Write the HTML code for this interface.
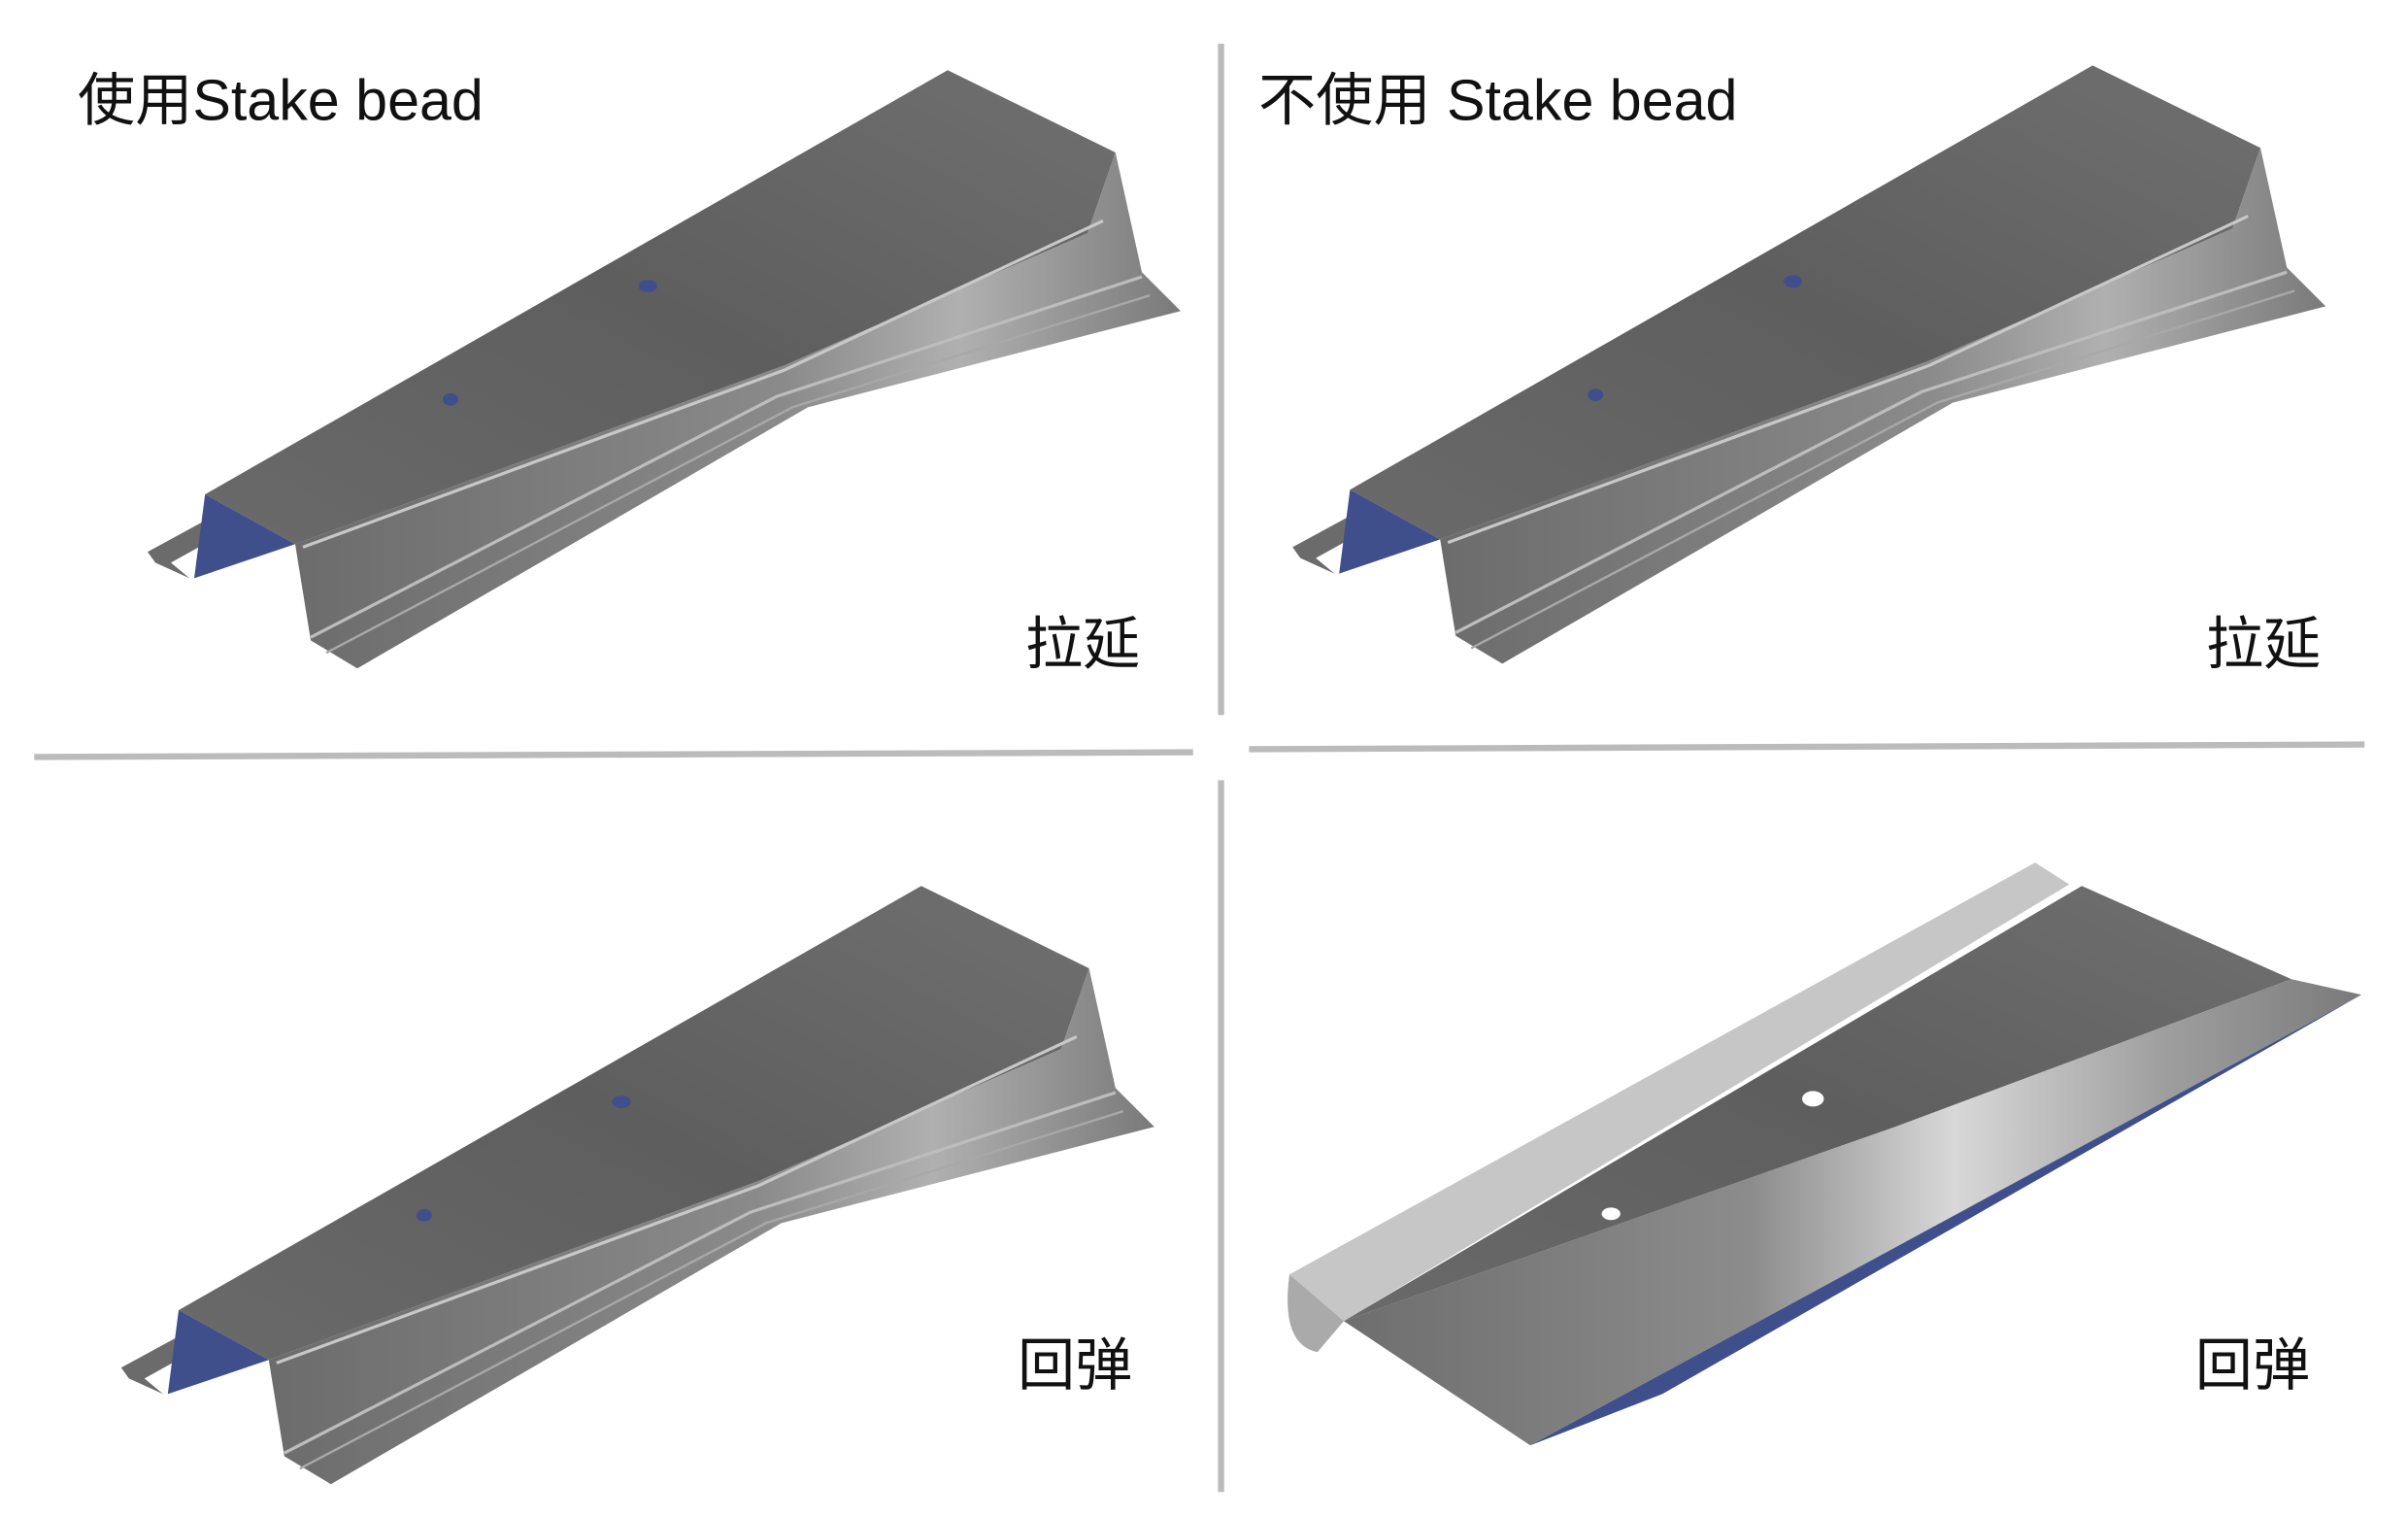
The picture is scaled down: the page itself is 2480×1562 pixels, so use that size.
<!DOCTYPE html>
<html><head><meta charset="utf-8"><style>
html,body{margin:0;padding:0;background:#fff;}
svg{display:block;}
text{font-family:"Liberation Sans","Noto Sans CJK SC",sans-serif;fill:#111;}
</style></head><body>
<svg width="2480" height="1562" viewBox="0 0 1550 976" xmlns="http://www.w3.org/2000/svg">
<defs>
<linearGradient id="top" x1="0" y1="1" x2="1" y2="0">
<stop offset="0" stop-color="#6a6a6a"/><stop offset="0.5" stop-color="#5e5e5e"/><stop offset="1" stop-color="#707070"/></linearGradient>
<linearGradient id="wall" x1="0" y1="0" x2="1" y2="0">
<stop offset="0" stop-color="#6c6c6c"/><stop offset="0.55" stop-color="#8a8a8a"/><stop offset="0.75" stop-color="#b0b0b0"/><stop offset="1" stop-color="#7a7a7a"/></linearGradient>
<linearGradient id="wall2" x1="0" y1="0" x2="1" y2="0">
<stop offset="0" stop-color="#6e6e6e"/><stop offset="0.4" stop-color="#8c8c8c"/><stop offset="0.6" stop-color="#d8d8d8"/><stop offset="0.8" stop-color="#a0a0a0"/><stop offset="1" stop-color="#7a7a7a"/></linearGradient>
<g id="part">
<polygon points="95,355 130,336 128,352 110,362 122,372 100,362" fill="#6b6b6b"/>
<polygon points="132,318 610,45 718,98 700,150 505,235 190,350" fill="url(#top)"/>
<polygon points="190,350 505,235 700,150 718,98 735,175 760,200 520,262 230,430 200,412" fill="url(#wall)"/>
<polyline points="195,352 505,238 710,142" fill="none" stroke="#c8c8c8" stroke-width="2"/>
<polyline points="200,410 500,255 735,178" fill="none" stroke="#bdbdbd" stroke-width="2"/>
<polyline points="210,420 510,262 740,190" fill="none" stroke="#a8a8a8" stroke-width="1.5"/>
<polygon points="132,318 190,350 125,372" fill="#3e4f8c"/>
<ellipse cx="417" cy="184" rx="6" ry="4" fill="#3e4f8c"/>
<ellipse cx="290" cy="257" rx="5" ry="4" fill="#3e4f8c"/>
</g>
</defs>
<text x="50" y="77" font-size="37">使用Stake bead</text>
<text x="810" y="77" font-size="37">不使用 Stake bead</text>
<use href="#part"/>
<use href="#part" transform="translate(737,-3)"/>
<use href="#part" transform="translate(-17,525)"/>
<g transform="translate(740,525)">
<polygon points="90,295 570,30 592,44 125,325" fill="#c6c6c6"/>
<path d="M90,295 Q84,340 108,345 L125,325 Z" fill="#aaa"/>
<polygon points="125,325 600,45 735,105 480,200" fill="url(#top)"/>
<polygon points="125,325 480,200 735,105 780,115 245,405" fill="url(#wall2)"/>
<polygon points="245,405 780,115 330,372" fill="#3e4f8c"/>
<ellipse cx="427" cy="182" rx="7" ry="5" fill="#fff"/>
<ellipse cx="297" cy="256" rx="6" ry="4" fill="#fff"/>
</g>
<text x="660" y="427" font-size="37">拉延</text>
<text x="1420" y="427" font-size="37">拉延</text>
<text x="655" y="891" font-size="37">回弹</text>
<text x="1413" y="891" font-size="37">回弹</text>
<line x1="786" y1="28" x2="786" y2="460" stroke="#bbb" stroke-width="4"/>
<line x1="786" y1="502" x2="786" y2="960" stroke="#bbb" stroke-width="4"/>
<line x1="22" y1="487" x2="768" y2="484" stroke="#bbb" stroke-width="4"/>
<line x1="804" y1="482" x2="1522" y2="479" stroke="#bbb" stroke-width="4"/>
</svg>
</body></html>
